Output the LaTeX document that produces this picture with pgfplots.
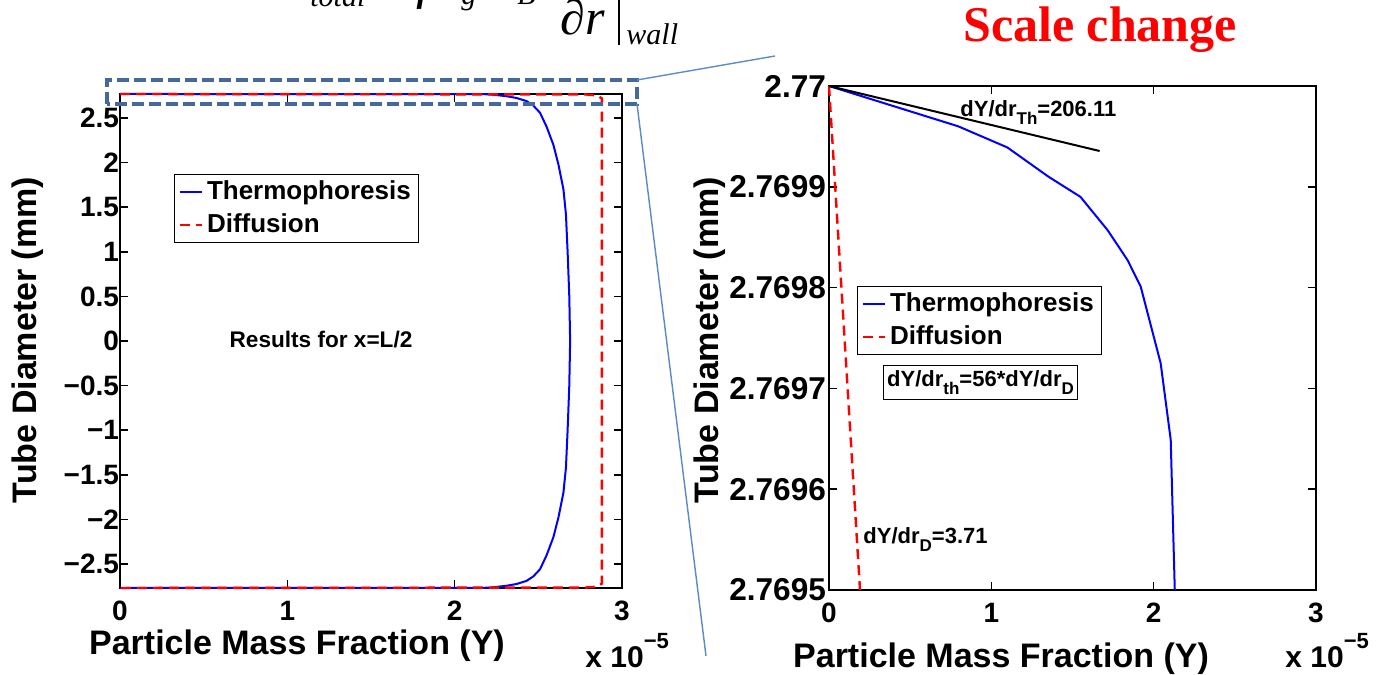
\documentclass[border=0pt]{standalone}
\usepackage{fontspec}
\setmainfont{Liberation Sans}
\newfontfamily\tnr{Liberation Serif}
\usepackage{pgfplots}
\pgfplotsset{compat=1.18}

\definecolor{boxblue}{HTML}{44699A}
\definecolor{linkblue}{HTML}{5B8CC8}

\newcommand{\sub}[1]{\raisebox{-4pt}{\fontsize{8.5}{8.5}\selectfont #1}}

\pgfplotsset{
  mat/.style={
    scale only axis, clip=false,
    tick align=inside, major tick length=4pt,
    axis line style={line width=0.9pt},
    every tick/.style={black, line width=0.8pt},
    xtick={0,1,2,3}, xmin=0, xmax=3,
    /pgf/number format/assume math mode=true,
    xticklabel style={font=\bfseries\fontsize{14}{14}\selectfont, yshift=-3pt},
    legend cell align=left,
    legend image code/.code={\draw[##1] (0pt,0pt) -- (11pt,0pt);},
    legend style={draw=black, line width=0.6pt,
      font=\bfseries\fontsize{13}{15}\selectfont,
      inner xsep=2pt, inner ysep=1.2pt, row sep=1.5pt, cells={anchor=west}},
  },
  thermo/.style={blue, line width=1pt},
  diff/.style={red, line width=1.2pt, dash pattern=on 5pt off 3pt},
}

\begin{document}
\begin{tikzpicture}
\useasboundingbox (0,0) rectangle (692pt,337pt);

% ---------------- left panel ----------------
\begin{axis}[mat, at={(60pt,43pt)}, anchor=south west, width=251pt, height=247pt,
  ymin=-2.77, ymax=2.77,
  ytick={-2.5,-2,-1.5,-1,-0.5,0,0.5,1,1.5,2,2.5},
  yticklabels={−2.5,−2,−1.5,−1,−0.5,0,0.5,1,1.5,2,2.5},
  yticklabel style={font=\bfseries\fontsize{14}{14}\selectfont, xshift=3pt},
  legend style={at={(0.1076,0.838)}, anchor=north west}]
\addplot[thermo] coordinates {
 (0,2.77) (2.13,2.7695) (2.21,2.766) (2.31,2.745) (2.37,2.725) (2.43,2.69)
 (2.47,2.64) (2.51,2.56) (2.55,2.40) (2.59,2.20) (2.62,1.98) (2.65,1.70)
 (2.665,1.42) (2.675,1.0) (2.685,0.5) (2.69,0)
 (2.685,-0.5) (2.675,-1.0) (2.665,-1.42) (2.65,-1.70) (2.62,-1.98) (2.59,-2.20)
 (2.55,-2.40) (2.51,-2.56) (2.47,-2.64) (2.43,-2.69) (2.37,-2.725) (2.31,-2.745)
 (2.21,-2.766) (2.13,-2.7695) (0,-2.77)};
\addlegendentry{Thermophoresis}
\addplot[diff] coordinates {
 (0,2.77) (0.19,2.7695) (2.78,2.765) (2.85,2.755) (2.88,2.72)
 (2.88,-2.72) (2.85,-2.755) (2.78,-2.765) (0.19,-2.7695) (0,-2.77)};
\addlegendentry{Diffusion}
\end{axis}

% ---------------- right panel (y stored as (r-2.7695) x 10^4 mm) ----------------
\begin{axis}[mat, at={(414.5pt,42pt)}, anchor=south west, width=243.5pt, height=252pt,
  ymin=0, ymax=5, ytick={0,1,2,3,4,5},
  yticklabels={2.7695,2.7696,2.7697,2.7698,2.7699,2.77},
  yticklabel style={font=\bfseries\fontsize{15.8}{15.8}\selectfont, xshift=2pt},
  legend style={at={(0.0575,0.603)}, anchor=north west}]
\addplot[thermo] coordinates {
 (0,5) (0.796,4.60) (1.099,4.39) (1.352,4.10) (1.549,3.90) (1.716,3.57)
 (1.840,3.27) (1.920,3.01) (2.043,2.25) (2.105,1.49) (2.130,0)};
\addlegendentry{Thermophoresis}
\addplot[diff] coordinates {(0,5) (0.191,0)};
\addlegendentry{Diffusion}
\addplot[black, line width=1pt, forget plot] coordinates {(0,5) (1.667,4.355)};
\end{axis}

% ---------------- labels ----------------
\node[anchor=base, font=\bfseries\fontsize{17}{17}\selectfont] at (148.5pt,10pt) {Particle Mass Fraction (Y)};
\node[anchor=base, font=\bfseries\fontsize{17}{17}\selectfont] at (500.5pt,3.5pt) {Particle Mass Fraction (Y)};
\node[rotate=90, font=\bfseries\fontsize{17}{17}\selectfont] at (14pt,167pt) {Tube Diameter (mm)};
\node[rotate=90, font=\bfseries\fontsize{17}{17}\selectfont] at (355pt,167pt) {Tube Diameter (mm)};
\node[anchor=base west, inner sep=0pt, font=\bfseries\fontsize{15}{15}\selectfont] at (292.5pt,3.5pt) {x 10\raisebox{9.5pt}{\fontsize{11}{11}\selectfont −5}};
\node[anchor=base west, inner sep=0pt, font=\bfseries\fontsize{15}{15}\selectfont] at (642.5pt,3.5pt) {x 10\raisebox{9.5pt}{\fontsize{11}{11}\selectfont −5}};

\node[font=\bfseries\fontsize{11.3}{11.3}\selectfont] at (160.5pt,167pt) {Results for x=L/2};
\node[anchor=base west, inner sep=0pt, font=\bfseries\fontsize{11}{11}\selectfont] at (480pt,278.5pt) {dY/dr\sub{Th}=206.11};
\node[anchor=base west, inner sep=0pt, font=\bfseries\fontsize{11}{11}\selectfont] at (431.5pt,65.5pt) {dY/dr\sub{D}=3.71};
\node[draw=black, line width=0.6pt, inner xsep=2pt, inner ysep=2.5pt, font=\bfseries\fontsize{11}{11}\selectfont] at (490.25pt,145.75pt) {dY/dr\sub{th}=56*dY/dr\sub{D}};

% ---------------- zoom frame and connectors ----------------
\draw[boxblue, line width=2pt, dash pattern=on 6pt off 2.5pt] (53.5pt,285pt) rectangle (318.5pt,297pt);
\draw[linkblue, line width=0.7pt] (318.5pt,297pt) -- (387.5pt,309pt);
\draw[linkblue, line width=0.7pt] (318.5pt,285pt) -- (353pt,9pt);

% ---------------- header (partly cut off) ----------------
\node[anchor=base, text=red, font=\tnr\bfseries\fontsize{25}{25}\selectfont] at (550pt,316pt) {Scale change};
\node[anchor=base west, inner sep=0pt, font=\tnr\itshape\fontsize{15}{15}\selectfont] at (155pt,333.5pt) {total};
\node[anchor=base west, inner sep=0pt, font=\tnr\itshape\fontsize{28}{28}\selectfont] at (209pt,338pt) {ρ};
\node[anchor=base west, inner sep=0pt, font=\tnr\itshape\fontsize{15}{15}\selectfont] at (230.5pt,334.5pt) {g};
\node[anchor=base west, inner sep=0pt, font=\tnr\itshape\fontsize{15}{15}\selectfont] at (258.5pt,334.5pt) {B};
\node[anchor=base west, inner sep=0pt, font=\tnr\itshape\fontsize{25}{25}\selectfont] at (280pt,319.5pt) {∂r};
\draw[line width=0.8pt] (309.5pt,345pt) -- (309.5pt,314.5pt);
\node[anchor=base west, inner sep=0pt, font=\tnr\itshape\fontsize{15}{15}\selectfont] at (313pt,314.5pt) {wall};
\end{tikzpicture}
\end{document}
